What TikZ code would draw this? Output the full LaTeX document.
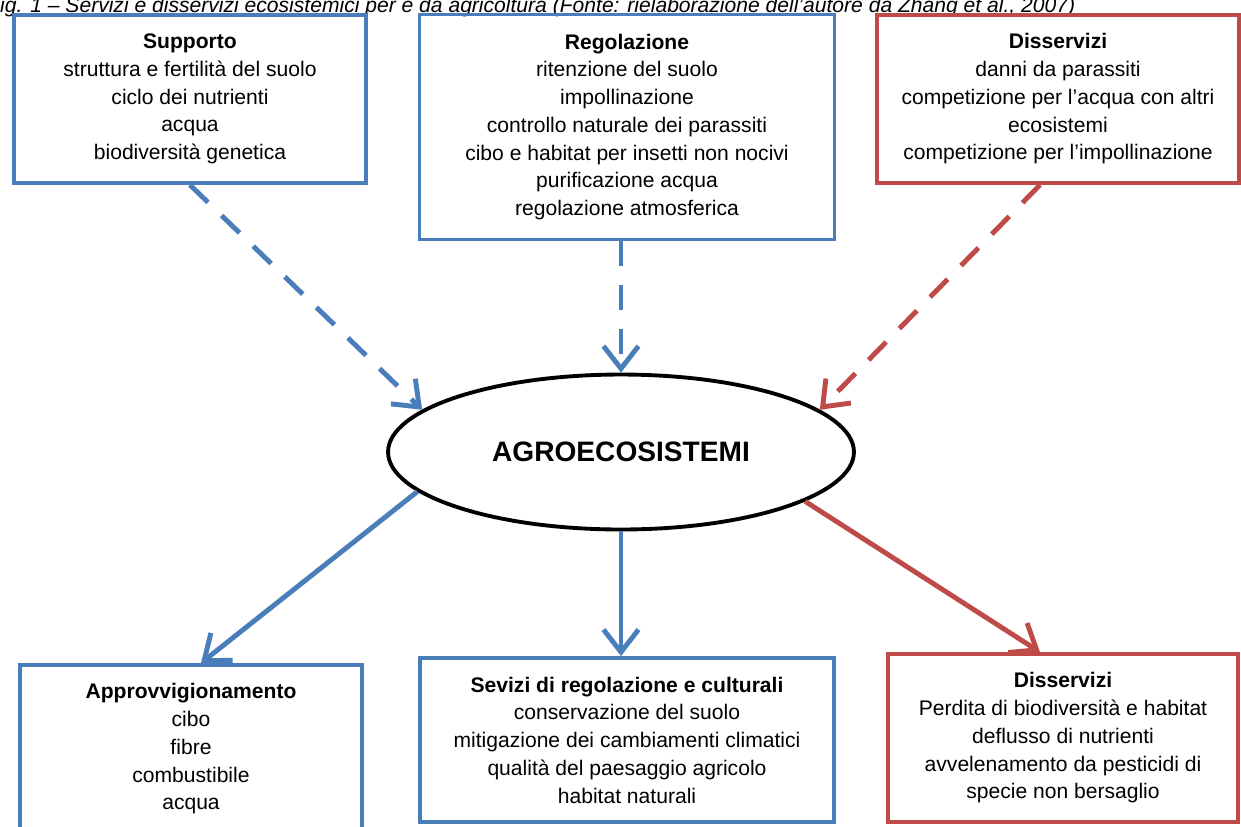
\documentclass[tikz,border=0pt]{standalone}
\usepackage{fontspec}
\setmainfont{Liberation Sans}
\usetikzlibrary{arrows.meta, positioning, shapes.geometric}

\definecolor{svblue}{HTML}{4A7EBB}
\definecolor{svred}{HTML}{BE4B48}

\begin{document}
\begin{tikzpicture}[x=0.02cm, y=-0.02cm,
  every node/.style={align=center, font=\fontsize{12}{15.8}\selectfont},
  box/.style={draw=#1, line width=2.2pt, inner sep=0pt},
  link/.style={draw=#1, line width=2.8pt, -{Straight Barb[length=0.45cm, width=0.7cm]}},
  hint/.style={link=#1, dash pattern=on 0.5cm off 0.38cm}]
\useasboundingbox (0,0) rectangle (1241,826);
\clip (0,0) rectangle (1241,826);

\node (cap) [anchor=base west, inner sep=0pt, font=\fontsize{12}{14}\selectfont\itshape] at (-13,12)
  {Fig. 1 – Servizi e disservizi ecosistemici per e da agricoltura (Fonte: rielaborazione dell'autore da Zhang et al., 2007)};

% servizi e disservizi verso l'agroecosistema
\node (sup) [box=svblue, minimum width=7.04cm, minimum height=3.36cm] at (190,99)
  {\textbf{Supporto}\\struttura e fertilità del suolo\\ciclo dei nutrienti\\acqua\\biodiversità genetica};
\node (reg) [box=svblue, minimum width=8.3cm, minimum height=4.5cm] at (627,127)
  {\textbf{Regolazione}\\ritenzione del suolo\\impollinazione\\controllo naturale dei parassiti\\cibo e habitat per insetti non nocivi\\purificazione acqua\\regolazione atmosferica};
\node (disin) [box=svred, minimum width=7.24cm, minimum height=3.36cm] at (1058,99)
  {\textbf{Disservizi}\\danni da parassiti\\competizione per l'acqua con altri\\ecosistemi\\competizione per l'impollinazione};

\node (eco) [ellipse, draw, line width=2.2pt, minimum width=9.32cm, minimum height=3.1cm, inner sep=0pt,
  font=\fontsize{16}{18}\selectfont\bfseries] at (621,452) {AGROECOSISTEMI};

% servizi e disservizi dall'agroecosistema
\node (app) [box=svblue, minimum width=6.84cm, minimum height=3.36cm] at (191,749)
  {\textbf{Approvvigionamento}\\cibo\\fibre\\combustibile\\acqua};
\node (cult) [box=svblue, minimum width=8.28cm, minimum height=3.28cm] at (627,740)
  {\textbf{Sevizi di regolazione e culturali}\\conservazione del suolo\\mitigazione dei cambiamenti climatici\\qualità del paesaggio agricolo\\habitat naturali};
\node (disout) [box=svred, minimum width=7cm, minimum height=3.36cm] at (1063,738)
  {\textbf{Disservizi}\\Perdita di biodiversità e habitat\\deflusso di nutrienti\\avvelenamento da pesticidi di\\specie non bersaglio};

\draw[hint=svblue] (sup.south) -- (eco.168);
\draw[hint=svblue] (reg.south -| eco.north) -- (eco.north);
\draw[hint=svred] ([xshift=-0.36cm]disin.south) -- (eco.12);
\draw[link=svblue] (eco.191) -- ([xshift=0.2cm]app.north);
\draw[link=svblue] (eco.south) -- (eco.south |- cult.north);
\draw[link=svred] (eco.-15) -- ([xshift=-0.46cm]disout.north);
\end{tikzpicture}
\end{document}
